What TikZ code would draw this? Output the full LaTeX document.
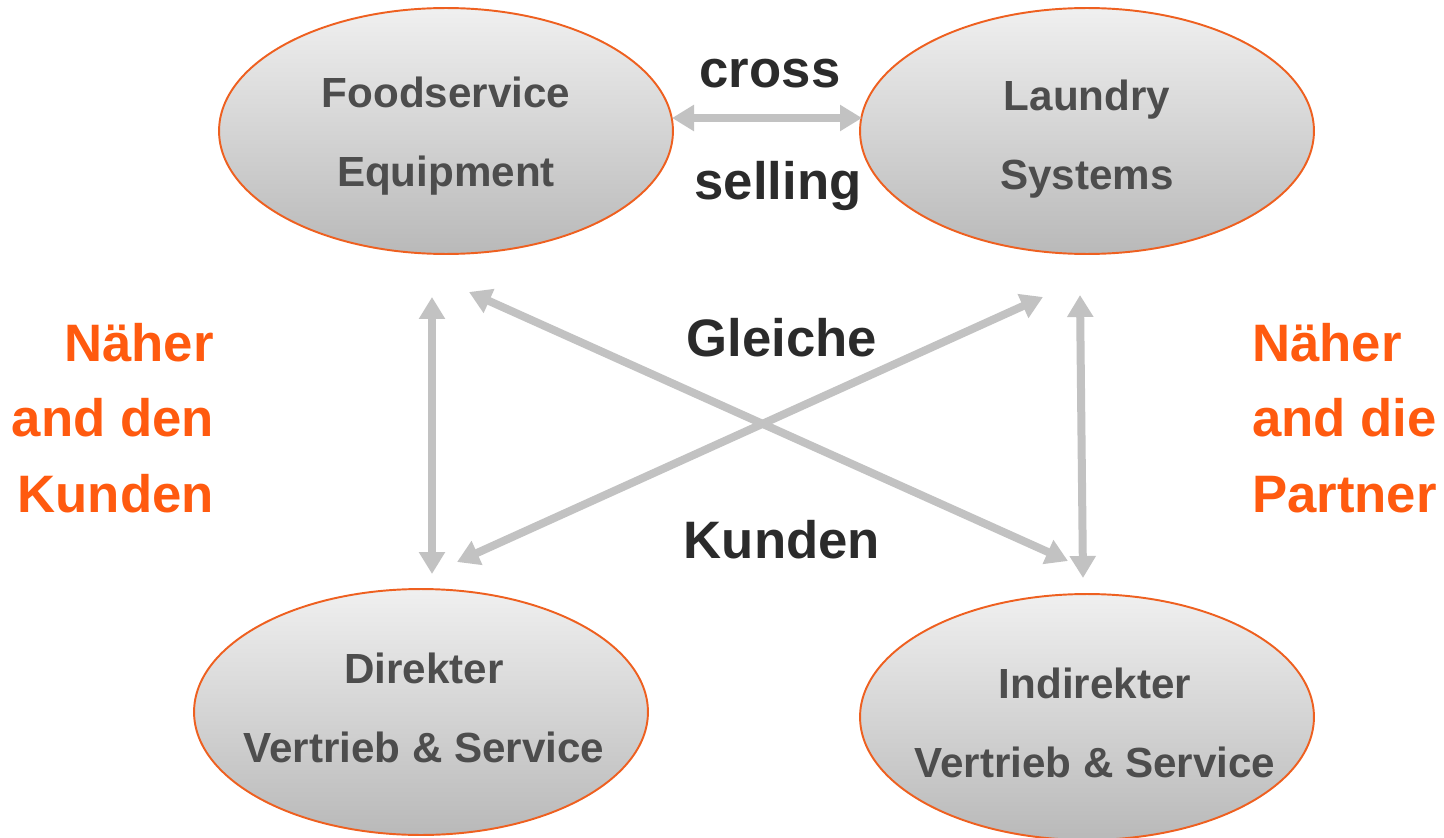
\documentclass[tikz,border=0pt]{standalone}
\usepackage{fontspec}
\setmainfont{Liberation Sans}
\usepackage{xcolor}
\usetikzlibrary{shapes.geometric, positioning, arrows.meta}

\definecolor{brandorange}{HTML}{FF5A0F}
\definecolor{ringorange}{HTML}{EE6020}
\definecolor{arrowgray}{HTML}{C2C2C2}
\definecolor{unittext}{HTML}{4D4D4D}
\definecolor{darktext}{HTML}{2B2B2B}

\begin{document}
\begin{tikzpicture}[x=0.02cm,y=-0.02cm,
    unit/.style={ellipse,draw=ringorange,line width=1.1pt,top color=gray!12,bottom color=gray!55,
      minimum width=9.08cm,minimum height=4.92cm,inner sep=0pt},
    unitlabel/.style={align=center,text=unittext,font=\bfseries\fontsize{24}{45}\selectfont},
    bigword/.style={text=darktext,font=\bfseries\fontsize{30}{43}\selectfont},
    sidenote/.style={text=brandorange,font=\bfseries\fontsize{30}{43}\selectfont},
    link/.style={<->,>={Triangle[length=0.44cm,width=0.5cm]},draw=arrowgray,line width=0.16cm}]
    \useasboundingbox (0,0) rectangle (1444,838);

    \node[unit] (fse) at (446,131) {};
    \node[unit] (ls) at (1087,131) {};
    \node[unit] (dvs) at (421,712) {};
    \node[unit] (ivs) at (1087,717) {};

    \node[unitlabel] (fsetxt) at ([yshift=-0.1cm]fse.center) {Foodservice\\Equipment};
    \node[unitlabel] (lstxt) at ([yshift=-0.16cm]ls.center) {Laundry\\Systems};
    \node[unitlabel] (dvstxt) at ([xshift=0.06cm,yshift=0.08cm]dvs.center) {Direkter\\Vertrieb \& Service};
    \node[unitlabel] (ivstxt) at ([xshift=0.16cm,yshift=-0.12cm]ivs.center) {Indirekter\\Vertrieb \& Service};

    \node[bigword,align=center,font=\bfseries\fontsize{30}{64}\selectfont] (cross) at (778,135) {cross\hspace*{0.32cm}\\selling};
    \node[bigword] (same) at (782,338) {Gleiche};
    \node[bigword] (cust) at (782,540) {Kunden};

    \node[sidenote,align=right,anchor=east] (nearcust) at (220,418) {Näher\\and den\\Kunden};
    \node[sidenote,align=left,anchor=west] (nearpart) at (1246,418) {Näher\\and die\\Partner};

    % arrow ends
    \coordinate (fseR) at (672,118);
    \coordinate (lsL) at (862,118);
    \coordinate (fseB) at (432,297);
    \coordinate (dvsT) at (432,574);
    \coordinate (lsB) at (1080,295);
    \coordinate (ivsT) at (1083,578);
    \coordinate (fseX) at (469,292);
    \coordinate (ivsX) at (1068,561);
    \coordinate (lsX) at (1043,297);
    \coordinate (dvsX) at (457,562);

    \path (fseR) edge[link] (lsL)
          (fseB) edge[link] (dvsT)
          (lsB) edge[link] (ivsT)
          (fseX) edge[link] (ivsX)
          (lsX) edge[link] (dvsX);
\end{tikzpicture}
\end{document}
